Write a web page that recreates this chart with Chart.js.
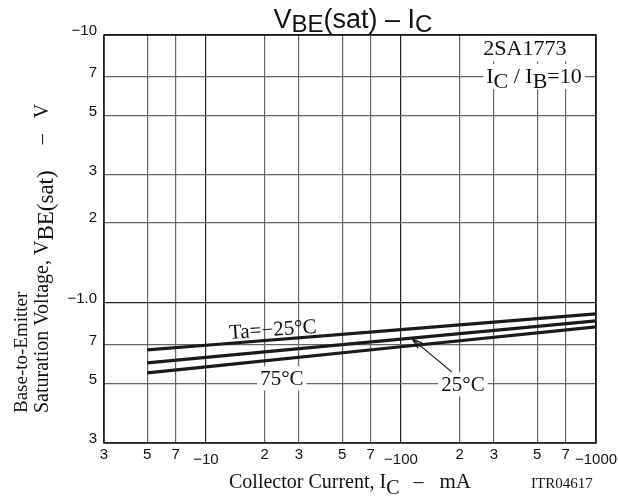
<!DOCTYPE html>
<html>
<head>
<meta charset="utf-8">
<script src="https://cdn.jsdelivr.net/npm/chart.js@4"></script>
<style>
  body { margin: 0; background: #fff; }
  canvas { display: block; }
</style>
</head>
<body>
<canvas id="myChart" width="618" height="498"></canvas>
<script>
// Collector current magnitudes (mA) and saturation voltage magnitudes (V)
var currents = [5, 10, 100, 1000];
var vbeMinus25 = [0.668, 0.695, 0.795, 0.910];
var vbe25 = [0.597, 0.626, 0.732, 0.857];
var vbe75 = [0.548, 0.577, 0.686, 0.814];

// Tick values and their printed labels
var xTicks = [3, 5, 7, 10, 20, 30, 50, 70, 100, 200, 300, 500, 700, 1000];
var xTickLabels = ['3', '5', '7', '\u221210', '2', '3', '5', '7', '\u2212100', '2', '3', '5', '7', '\u22121000'];
var yTicks = [0.3, 0.5, 0.7, 1, 2, 3, 5, 7, 10];
var yTickLabels = ['3', '5', '7', '\u22121.0', '2', '3', '5', '7', '\u221210'];

var SANS = '"Liberation Sans", Arial, sans-serif';
var SERIF = '"Liberation Serif", "Times New Roman", serif';

function isDecade(v) {
  var l = Math.log10(v);
  return Math.abs(l - Math.round(l)) < 1e-6;
}

function toPoints(ys) {
  return currents.map(function (c, i) { return { x: c, y: ys[i] }; });
}

// width of a run of text pieces; a piece may be just a gap in px
function richWidth(ctx, parts) {
  var w = 0;
  parts.forEach(function (p) {
    if (p.gap) { w += p.gap; return; }
    ctx.font = p.font;
    w += ctx.measureText(p.t).width;
  });
  return w;
}

// draw text pieces (with lowered subscripts) at x, returns left edge and width
function drawRich(ctx, parts, x, y, align) {
  var total = richWidth(ctx, parts);
  var cx = x;
  if (align === 'center') cx = x - total / 2;
  if (align === 'right') cx = x - total;
  var left = cx;
  ctx.textAlign = 'left';
  ctx.textBaseline = 'alphabetic';
  parts.forEach(function (p) {
    if (p.gap) { cx += p.gap; return; }
    ctx.font = p.font;
    ctx.fillText(p.t, cx, y + (p.dy || 0));
    cx += ctx.measureText(p.t).width;
  });
  return { left: left, width: total };
}

// text centred on a point, on a white patch that hides the grid
function boxedText(ctx, parts, cx, cy, fontPx) {
  var w = richWidth(ctx, parts);
  ctx.fillStyle = '#fff';
  ctx.fillRect(cx - w / 2 - 3, cy - fontPx * 0.55, w + 6, fontPx * 1.15);
  ctx.fillStyle = '#111';
  drawRich(ctx, parts, cx, cy + fontPx * 0.33, 'center');
}

var decorations = {
  id: 'decorations',
  afterDraw: function (chart) {
    var ctx = chart.ctx;
    var xs = chart.scales.x, ys = chart.scales.y;
    var a = chart.chartArea;
    ctx.save();

    // frame
    ctx.strokeStyle = '#111';
    ctx.lineWidth = 1.5;
    ctx.strokeRect(a.left, a.top, a.right - a.left, a.bottom - a.top);

    ctx.fillStyle = '#111';

    // x tick labels (decade labels sit a little lower)
    ctx.font = '15px ' + SANS;
    ctx.textAlign = 'center';
    ctx.textBaseline = 'middle';
    xTicks.forEach(function (v, i) {
      var px = xs.getPixelForValue(v);
      var dy = (isDecade(v) && v > 3) ? 17 : 12;
      ctx.fillText(xTickLabels[i], px, a.bottom + dy);
    });

    // y tick labels
    ctx.textAlign = 'right';
    yTicks.forEach(function (v, i) {
      ctx.fillText(yTickLabels[i], a.left - 7, ys.getPixelForValue(v) - 4);
    });

    // title
    drawRich(ctx, [
      { t: 'V', font: '27px ' + SANS },
      { t: 'BE', font: '24px ' + SANS, dy: 4 },
      { t: '(sat) \u2013 I', font: '27px ' + SANS },
      { t: 'C', font: '24px ' + SANS, dy: 4 }
    ], 353, 28, 'center');

    // x axis title
    var f20 = '20px ' + SERIF;
    drawRich(ctx, [
      { t: 'Collector Current, I', font: f20 },
      { t: 'C', font: f20, dy: 6 },
      { gap: 14 },
      { t: '\u2013', font: f20 },
      { gap: 16 },
      { t: 'mA', font: '21px ' + SERIF }
    ], 229, 488, 'left');
    ctx.font = '15px ' + SERIF;
    ctx.textAlign = 'left';
    ctx.fillText('ITR04617', 531, 488);

    // y axis title (rotated, two lines)
    ctx.save();
    ctx.translate(27, 413);
    ctx.rotate(-Math.PI / 2);
    drawRich(ctx, [{ t: 'Base-to-Emitter', font: '19px ' + SERIF }], 0, 0, 'left');
    drawRich(ctx, [
      { t: 'Saturation Voltage, V', font: '20px ' + SERIF },
      { t: 'BE(sat)', font: '23px ' + SERIF, dy: 5 },
      { gap: 26 },
      { t: '\u2013', font: '20px ' + SERIF },
      { gap: 16 },
      { t: 'V', font: '20px ' + SERIF }
    ], 0, 21, 'left');
    ctx.restore();

    // part number and condition
    var f22 = '22px ' + SERIF;
    boxedText(ctx, [{ t: '2SA1773', font: f22 }],
      xs.getPixelForValue(432), ys.getPixelForValue(8.94), 22);
    boxedText(ctx, [
      { t: 'I', font: f22 },
      { t: 'C', font: f22, dy: 5 },
      { t: ' / I', font: f22 },
      { t: 'B', font: f22, dy: 5 },
      { t: '=10', font: f22 }
    ], xs.getPixelForValue(481), ys.getPixelForValue(7.03), 22);

    // curve labels
    var f21 = '21px ' + SERIF;
    ctx.save();
    ctx.translate(xs.getPixelForValue(22), ys.getPixelForValue(0.80));
    ctx.rotate(-0.07);
    drawRich(ctx, [{ t: 'Ta=\u221225\u00b0C', font: f21 }], 0, 7, 'center');
    ctx.restore();

    boxedText(ctx, [{ t: '75\u00b0C', font: f21 }],
      xs.getPixelForValue(24.5), ys.getPixelForValue(0.525), 21);
    boxedText(ctx, [{ t: '25\u00b0C', font: f21 }],
      xs.getPixelForValue(208), ys.getPixelForValue(0.499), 21);

    // arrow to the 25 degC curve
    var x0 = xs.getPixelForValue(182), y0 = ys.getPixelForValue(0.553);
    var x1 = xs.getPixelForValue(114), y1 = ys.getPixelForValue(0.734);
    var ang = Math.atan2(y1 - y0, x1 - x0);
    ctx.strokeStyle = '#111';
    ctx.lineWidth = 1.2;
    ctx.beginPath();
    ctx.moveTo(x0, y0);
    ctx.lineTo(x1, y1);
    ctx.moveTo(x1 - 11 * Math.cos(ang - 0.3), y1 - 11 * Math.sin(ang - 0.3));
    ctx.lineTo(x1, y1);
    ctx.lineTo(x1 - 11 * Math.cos(ang + 0.3), y1 - 11 * Math.sin(ang + 0.3));
    ctx.stroke();

    ctx.restore();
  }
};

var lineStyle = { borderColor: '#1a1a1a', borderWidth: 3.2, pointRadius: 0, fill: false, tension: 0 };

var ctx = document.getElementById('myChart').getContext('2d');
var myChart = new Chart(ctx, {
  type: 'line',
  data: {
    datasets: [
      Object.assign({ label: 'Ta=-25', data: toPoints(vbeMinus25) }, lineStyle),
      Object.assign({ label: '25', data: toPoints(vbe25) }, lineStyle),
      Object.assign({ label: '75', data: toPoints(vbe75) }, lineStyle)
    ]
  },
  options: {
    responsive: false,
    animation: false,
    devicePixelRatio: 1,
    layout: { padding: { top: 35, right: 22, left: 0, bottom: 0 } },
    plugins: { legend: { display: false }, tooltip: { enabled: false } },
    scales: {
      x: {
        type: 'logarithmic',
        min: 3,
        max: 1000,
        afterBuildTicks: function (s) { s.ticks = xTicks.map(function (v) { return { value: v }; }); },
        afterFit: function (s) { s.height = 55; },
        ticks: { display: false },
        grid: {
          drawTicks: false,
          lineWidth: 1.2,
          color: function (c) { return isDecade(c.tick.value) ? '#222' : '#666'; }
        },
        border: { display: false }
      },
      y: {
        type: 'logarithmic',
        min: 0.3,
        max: 10,
        afterBuildTicks: function (s) { s.ticks = yTicks.map(function (v) { return { value: v }; }); },
        afterFit: function (s) { s.width = 104; },
        ticks: { display: false },
        grid: {
          drawTicks: false,
          lineWidth: 1.2,
          color: function (c) { return isDecade(c.tick.value) ? '#222' : '#666'; }
        },
        border: { display: false }
      }
    }
  },
  plugins: [decorations]
});
</script>
</body>
</html>
